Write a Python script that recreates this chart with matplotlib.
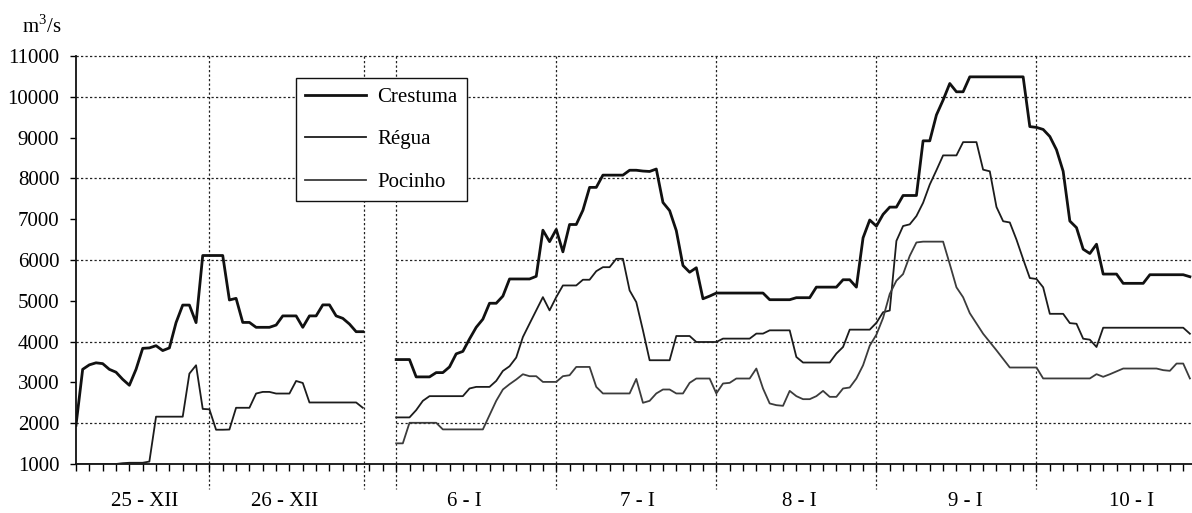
import matplotlib
matplotlib.use("Agg")
import matplotlib.pyplot as plt
import numpy as np

plt.rcParams['font.family'] = ['Liberation Serif', 'DejaVu Serif']
plt.rcParams['mathtext.fontset'] = 'custom'
plt.rcParams['mathtext.rm'] = 'Liberation Serif'

# ---------------- data (hourly discharge, m3/s) ----------------
# x = hour index along the (category) time axis
hours_p1 = list(range(0, 44))          # 25-XII 04h ... 26-XII
hours_p2 = list(range(48, 168))        # 6-I ... 10-I

crestuma_p1 = [1950, 3320, 3430, 3480, 3460, 3320, 3250, 3075, 2930, 3320,
               3835, 3845, 3900, 3780, 3845, 4465, 4895, 4895, 4465, 6110,
               6110, 6110, 6110, 5020, 5060, 4470, 4470, 4350, 4350, 4350,
               4405, 4630, 4630, 4630, 4350, 4630, 4630, 4900, 4900, 4630,
               4570, 4430, 4243, 4243]

regua_p1 = [1000, 1000, 1000, 1000, 1000, 1000, 1000, 1020, 1030, 1030,
            1030, 1060, 2160, 2160, 2160, 2160, 2160, 3215, 3420, 2350,
            2340, 1840, 1840, 1845, 2378, 2378, 2378, 2727, 2767, 2767,
            2727, 2727, 2727, 3035, 2986, 2508, 2508, 2508, 2508, 2508,
            2508, 2508, 2508, 2378]

crestuma_p2 = [3560, 3560, 3560, 3135, 3135, 3135, 3240, 3240, 3380, 3700,
               3760, 4065, 4350, 4550, 4940, 4940, 5115, 5535, 5535, 5535,
               5535, 5600, 6730, 6450, 6750, 6200, 6870, 6870, 7220, 7780,
               7780, 8080, 8080, 8080, 8080, 8200, 8200, 8180, 8170, 8230,
               7410, 7210, 6720, 5865, 5700, 5810, 5050, 5115, 5190, 5190,
               5190, 5190, 5190, 5190, 5190, 5190, 5027, 5027, 5027, 5027,
               5076, 5076, 5076, 5335, 5335, 5335, 5335, 5516, 5516, 5335,
               6543, 6980, 6830, 7118, 7296, 7296, 7581, 7581, 7581, 8921,
               8921, 9555, 9920, 10326, 10123, 10123, 10489, 10489, 10489, 10489,
               10489, 10489, 10489, 10489, 10489, 9270, 9250, 9200, 9027, 8702,
               8174, 6955, 6793, 6265, 6159, 6387, 5655, 5655, 5655, 5428,
               5428, 5428, 5428, 5639, 5639, 5639, 5639, 5639, 5639, 5590]

regua_p2 = [2142, 2142, 2142, 2320, 2548, 2663, 2663, 2663, 2663, 2663,
            2663, 2851, 2890, 2890, 2890, 3037, 3281, 3396, 3609, 4112,
            4440, 4765, 5090, 4765, 5090, 5376, 5376, 5376, 5516, 5516,
            5726, 5824, 5824, 6029, 6029, 5254, 4968, 4276, 3543, 3543,
            3543, 3543, 4137, 4137, 4137, 3990, 3990, 3990, 3990, 4073,
            4073, 4073, 4073, 4073, 4196, 4196, 4276, 4276, 4276, 4276,
            3623, 3487, 3487, 3487, 3487, 3487, 3707, 3868, 4293, 4293,
            4293, 4293, 4460, 4720, 4762, 6468, 6833, 6874, 7077, 7402,
            7849, 8200, 8564, 8564, 8564, 8889, 8889, 8889, 8214, 8174,
            7300, 6950, 6920, 6500, 6021, 5558, 5534, 5331, 4681, 4681,
            4681, 4453, 4437, 4071, 4047, 3868, 4340, 4340, 4340, 4340,
            4340, 4340, 4340, 4340, 4340, 4340, 4340, 4340, 4340, 4193]

pocinho_p2 = [1506, 1506, 2010, 2010, 2010, 2010, 2010, 1848, 1848, 1848,
              1848, 1848, 1848, 1848, 2198, 2548, 2826, 2956, 3071, 3200,
              3152, 3152, 3012, 3012, 3012, 3152, 3176, 3379, 3379, 3379,
              2890, 2729, 2729, 2729, 2729, 2729, 3085, 2500, 2548, 2729,
              2826, 2826, 2729, 2729, 2989, 3095, 3095, 3095, 2729, 2973,
              2989, 3095, 3095, 3095, 3340, 2851, 2484, 2442, 2426, 2792,
              2663, 2589, 2589, 2663, 2792, 2646, 2646, 2851, 2875, 3095,
              3420, 3900, 4170, 4580, 5168, 5493, 5655, 6102, 6430, 6450,
              6450, 6450, 6450, 5900, 5331, 5087, 4697, 4445, 4193, 3990,
              3787, 3576, 3365, 3365, 3365, 3365, 3365, 3097, 3097, 3097,
              3097, 3097, 3097, 3097, 3097, 3202, 3137, 3200, 3270, 3340,
              3340, 3340, 3340, 3340, 3340, 3300, 3284, 3462, 3462, 3097]

series_names = ['Crestuma', 'Régua', 'Pocinho']
day_labels = ['25 - XII', '26 - XII', '6 - I', '7 - I', '8 - I', '9 - I', '10 - I']
y_ticks = list(range(1000, 11001, 1000))
unit_label = 'm$^{\\mathrm{3}}$/s'

# ---------------- layout ----------------
W, H = 1192, 513
PX_PER_H = 6.67
fig = plt.figure(figsize=(W / 100, H / 100), dpi=100)
ax = fig.add_axes([76 / W, 49 / H, (W - 76) / W, 408 / H])
xmax = (W - 76) / PX_PER_H
ax.set_xlim(0, xmax)
ax.set_ylim(1000, 11000)

part1_end = 43.2
part2_start = 48.0
day_lines = [20, part1_end, 48, 72, 96, 120, 144]
label_pos = [10.3, 31.3, 58.3, 84.1, 108.5, 133.4, 158.3]

dot = (0, (1.8, 1.8))
gcol = '#222222'
# horizontal grid (interrupted in the gap), top border line continuous
for yv in [2000, 4000, 6000, 8000, 10000]:
    ax.hlines(yv, 0, part1_end, colors=gcol, linestyles=dot, linewidth=0.9, zorder=1)
    ax.hlines(yv, part2_start, xmax, colors=gcol, linestyles=dot, linewidth=0.9, zorder=1)
ax.hlines(11000, 0, xmax, colors=gcol, linestyles=dot, linewidth=0.9, zorder=1, clip_on=False)
# day separators, extending below the axis
trans = ax.get_xaxis_transform()
for xv in day_lines:
    ax.plot([xv, xv], [1.0, -0.062], transform=trans, color=gcol, linestyle=dot,
            linewidth=0.9, clip_on=False, zorder=1)

c_cres, c_reg, c_poc = '#111111', '#1c1c1c', '#3c3c3c'
ax.plot(hours_p1, crestuma_p1, color=c_cres, lw=2.0, zorder=4)
ax.plot(hours_p1, regua_p1, color=c_reg, lw=1.3, zorder=3)
l1, = ax.plot(hours_p2, crestuma_p2, color=c_cres, lw=2.0, zorder=4, label=series_names[0])
l2, = ax.plot(hours_p2, regua_p2, color=c_reg, lw=1.3, zorder=3, label=series_names[1])
l3, = ax.plot(hours_p2, pocinho_p2, color=c_poc, lw=1.3, zorder=3, label=series_names[2])

for s in ['top', 'right']:
    ax.spines[s].set_visible(False)
for s in ['left', 'bottom']:
    ax.spines[s].set_linewidth(1.3)
    ax.spines[s].set_color('#111111')

ax.set_yticks(y_ticks)
ax.set_yticklabels([str(v) for v in y_ticks])
ax.tick_params(axis='y', length=4, width=1, direction='out', pad=8, labelsize=15)
ax.set_xticks(np.arange(0, xmax, 2))
ax.set_xticklabels([])
ax.tick_params(axis='x', length=5, width=1, direction='out')

for lab, xp in zip(day_labels, label_pos):
    ax.text(xp, -0.0907, lab, transform=trans, ha='center', va='center', fontsize=15)

fig.text(62 / W, 1 - 33 / H, unit_label, ha='right', va='baseline', fontsize=15)

leg = ax.legend(handles=[l1, l2, l3], loc='upper left',
                bbox_to_anchor=((296 - 76) / (W - 76), (464 - 78) / 408),
                borderaxespad=0, frameon=True, fancybox=False, framealpha=1,
                edgecolor='#111111', fontsize=15, handlelength=2.9,
                handletextpad=0.55, labelspacing=1.1, borderpad=0.45)
leg.get_frame().set_linewidth(1.0)
leg.set_zorder(10)

fig.savefig('out.png', dpi=100)
